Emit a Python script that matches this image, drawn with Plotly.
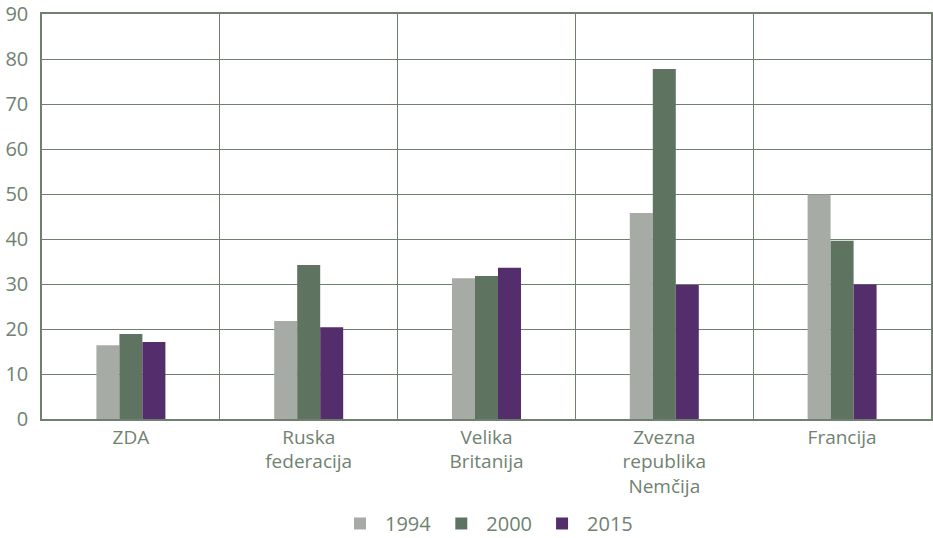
import plotly.graph_objects as go

categories = ["ZDA", "Ruska<br>federacija", "Velika<br>Britanija", "Zvezna<br>republika<br>Nemčija", "Francija"]
years = ["1994", "2000", "2015"]
values_1994 = [16.4, 21.8, 31.3, 45.8, 49.9]
values_2000 = [18.9, 34.2, 31.8, 77.8, 39.6]
values_2015 = [17.1, 20.4, 33.6, 29.8, 29.9]
colors = ["#a6aca5", "#5e7461", "#542d6c"]
y_ticks = [0, 10, 20, 30, 40, 50, 60, 70, 80, 90]

text_color = "#708270"
grid_color = "#6f806f"

fig = go.Figure()
for name, vals, col in zip(years, [values_1994, values_2000, values_2015], colors):
    fig.add_trace(go.Bar(x=categories, y=vals, name=name, marker_color=col,
                         marker_line_width=0))

fig.update_layout(
    width=933, height=538,
    margin=dict(l=41.5, r=2, t=14, b=119, autoexpand=False),
    paper_bgcolor="white", plot_bgcolor="white",
    barmode="group", bargap=0.612, bargroupgap=0,
    font=dict(family="Open Sans", size=18, color=text_color),
    showlegend=True,
    legend=dict(orientation="h", x=0.5, xanchor="center", y=-0.258, yanchor="middle",
                font=dict(size=20, color=text_color), itemwidth=40,
                traceorder="normal"),
)
fig.update_xaxes(
    type="category", tickson="boundaries", showgrid=True, gridcolor=grid_color, gridwidth=1,
    showline=True, linecolor=grid_color, linewidth=1.5, mirror=True, automargin=False,
    ticks="", tickfont=dict(size=19, color=text_color), range=[-0.5, 4.5],
)
fig.update_yaxes(
    range=[0, 90], tickvals=y_ticks, showgrid=True, gridcolor=grid_color, gridwidth=1,
    showline=True, linecolor=grid_color, linewidth=1.5, mirror=True, automargin=False,
    ticks="", ticklabelstandoff=8, tickfont=dict(size=20, color=text_color), zeroline=False,
)
fig.write_html(
    "out.html",
    config={"displayModeBar": False},
    post_script="document.body.style.margin='0';document.body.style.overflow='hidden';",
)
